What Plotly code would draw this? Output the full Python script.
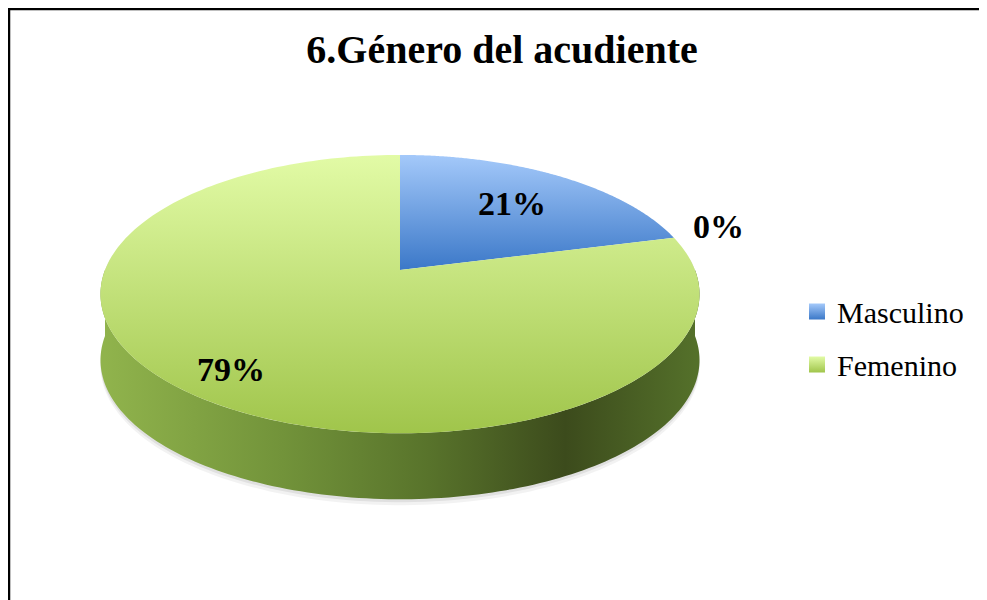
import numpy as np
import plotly.graph_objects as go

# data (percent of respondents)
labels = ["Masculino", "", "Femenino"]
values = [21, 0, 79]
in_legend = [True, False, True]

# colours: top-face gradient (light -> dark) per slice
top_colors = [["#a4c9fa", "#3b78c8"], ["#c3c3c3", "#8a8a8a"], ["#e2fba6", "#a0c54b"]]
side_scale = [[0, "#90b34c"], [0.3, "#72933a"], [0.55, "#58732b"],
              [0.78, "#3c4b1c"], [1, "#54702a"]]
label_r = [0.68, 1.17, 0.83]

# the page body has an 8px margin, so data units = screen pixels
OFF = 8
W, H = 987, 600

# fake 3D pie geometry (pixel space)
CX, CY = 400, 270
RX, RY = 295, 135
K = 0.173       # perspective: far side compressed
DEPTH = 66


def project(theta, r=1.0):
    t = np.radians(theta)
    u, v = r * np.sin(t), r * np.cos(t)
    s = 1 / (1 + K * v)
    return CX + RX * u * s, CY - RY * v * s


total = sum(values)
starts = np.cumsum([0] + values[:-1]) / total * 360
ends = np.cumsum(values) / total * 360

fig = go.Figure()

# soft shadow under the side
for off, a in [(6, 0.05), (3, 0.07)]:
    th = np.linspace(85, 275, 120)
    xs, ys = project(th)
    fig.add_trace(go.Scatter(
        x=np.concatenate([xs, xs[::-1]]),
        y=np.concatenate([ys + DEPTH + off, ys[::-1]]),
        fill="toself", fillcolor=f"rgba(0,0,0,{a})", mode="none",
        showlegend=False, hoverinfo="skip"))

# side walls (front half only)
for a0, a1 in zip(starts, ends):
    lo, hi = max(a0, 90), min(a1, 270)
    if hi <= lo:
        continue
    th = np.linspace(lo, hi, 150)
    xs, ys = project(th)
    fig.add_trace(go.Scatter(
        x=np.concatenate([xs, xs[::-1], xs[:1]]),
        y=np.concatenate([ys, ys[::-1] + DEPTH, ys[:1]]),
        fill="toself", mode="none", showlegend=False, hoverinfo="skip",
        fillgradient=dict(type="horizontal", colorscale=side_scale,
                          start=CX - RX, stop=CX + RX)))

# top faces
for lab, a0, a1, cols in zip(labels, starts, ends, top_colors):
    if a1 <= a0:
        continue
    th = np.linspace(a0, a1, 200)
    xs, ys = project(th)
    fig.add_trace(go.Scatter(
        x=np.concatenate([[CX], xs, [CX]]),
        y=np.concatenate([[CY], ys, [CY]]),
        fill="toself", mode="none", showlegend=False, hoverinfo="skip",
        fillgradient=dict(type="vertical",
                          colorscale=[[0, cols[1]], [1, cols[0]]])))

# percentage labels
for v, a0, a1, r in zip(values, starts, ends, label_r):
    x, y = project((a0 + a1) / 2, r)
    fig.add_annotation(x=x, y=y, text=f"{v}%", showarrow=False,
                       yshift=6 if r > 1 else 0,
                       font=dict(family="Liberation Serif", size=34,
                                 color="black", weight="bold"))

# legend entries
for lab, show, cols in zip(labels, in_legend, top_colors):
    if not show:
        continue
    fig.add_trace(go.Scatter(
        x=[None], y=[None], mode="markers", name=lab, legendgroup=lab,
        marker=dict(symbol="square", size=17, color=cols[0],
                    gradient=dict(type="vertical", color=cols[1]))))

fig.add_shape(type="rect", x0=8.5, y0=8.5, x1=1100, y1=700,
              line=dict(color="black", width=3.5))

fig.update_layout(
    width=W, height=H,
    margin=dict(l=0, r=0, t=0, b=0),
    paper_bgcolor="white", plot_bgcolor="white",
    title=dict(text="<b>6.Género del acudiente</b>",
               x=(502 - OFF) / W, xanchor="center",
               y=1 - (49 - OFF) / H, yanchor="middle",
               font=dict(family="Liberation Serif", size=40, color="black")),
    xaxis=dict(range=[OFF, W + OFF], visible=False, fixedrange=True),
    yaxis=dict(range=[H + OFF, OFF], visible=False, fixedrange=True),
    legend=dict(x=(797 - OFF) / W, y=1 - (338 - OFF) / H,
                xanchor="left", yanchor="middle",
                font=dict(family="Liberation Serif", size=30, color="black"),
                tracegroupgap=11, bgcolor="rgba(0,0,0,0)"),
)

fig.write_html("out.html")
